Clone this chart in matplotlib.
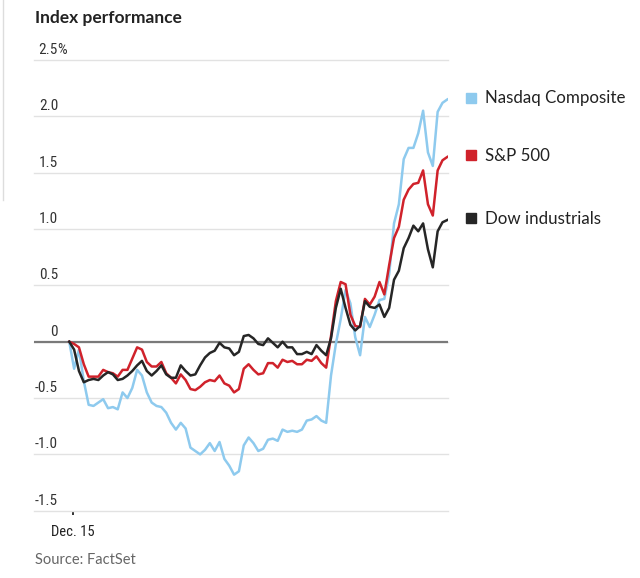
import matplotlib
matplotlib.use("Agg")
import matplotlib.pyplot as plt
from matplotlib import font_manager
from matplotlib.transforms import blended_transform_factory, offset_copy
from matplotlib.lines import Line2D


def pick_font(names):
    for name in names:
        try:
            font_manager.findfont(name, fallback_to_default=False)
            return name
        except Exception:
            pass
    return "DejaVu Sans"


MAIN_FONT = pick_font(["Lato", "Roboto", "DejaVu Sans"])
NARROW_FONT = pick_font(["Liberation Sans Narrow", "Roboto Condensed", "Lato"])

# 5-minute steps through the session, % change from prior close
nasdaq = [0, -0.24, -0.07, -0.35, -0.56, -0.57, -0.54, -0.51, -0.59, -0.58,
          -0.60, -0.45, -0.50, -0.41, -0.25, -0.30, -0.45, -0.54, -0.57, -0.58,
          -0.63, -0.72, -0.78, -0.72, -0.77, -0.94, -0.97, -1.00, -0.96, -0.90,
          -0.97, -0.89, -1.04, -1.10, -1.18, -1.15, -0.92, -0.85, -0.90, -0.97,
          -0.95, -0.87, -0.86, -0.88, -0.78, -0.80, -0.79, -0.80, -0.78, -0.70,
          -0.69, -0.66, -0.70, -0.72, -0.30, -0.02, 0.20, 0.46, 0.34, 0.04,
          -0.12, 0.22, 0.13, 0.24, 0.37, 0.38, 0.60, 1.05, 1.22, 1.62,
          1.72, 1.72, 1.85, 2.05, 1.68, 1.56, 2.04, 2.12, 2.15]

sp500 = [0, -0.02, -0.05, -0.20, -0.31, -0.31, -0.31, -0.25, -0.27, -0.28,
         -0.31, -0.25, -0.25, -0.15, -0.05, -0.07, -0.18, -0.22, -0.22, -0.18,
         -0.28, -0.32, -0.37, -0.29, -0.34, -0.42, -0.43, -0.40, -0.36, -0.34,
         -0.35, -0.30, -0.37, -0.39, -0.45, -0.42, -0.24, -0.20, -0.25, -0.29,
         -0.28, -0.19, -0.19, -0.23, -0.16, -0.18, -0.17, -0.20, -0.20, -0.16,
         -0.17, -0.13, -0.19, -0.23, 0.05, 0.36, 0.53, 0.51, 0.24, 0.14,
         0.13, 0.38, 0.33, 0.40, 0.53, 0.42, 0.68, 0.92, 1.02, 1.26,
         1.35, 1.40, 1.41, 1.52, 1.22, 1.12, 1.52, 1.61, 1.64]

dow = [0, -0.07, -0.26, -0.36, -0.34, -0.33, -0.34, -0.30, -0.27, -0.29,
       -0.34, -0.33, -0.30, -0.26, -0.21, -0.17, -0.26, -0.30, -0.26, -0.21,
       -0.29, -0.32, -0.32, -0.21, -0.26, -0.30, -0.29, -0.21, -0.14, -0.10,
       -0.08, -0.01, -0.05, -0.06, -0.12, -0.09, 0.05, 0.06, 0.03, -0.02,
       -0.03, 0.03, -0.01, -0.05, 0.00, -0.05, -0.05, -0.11, -0.11, -0.09,
       -0.11, -0.03, -0.08, -0.12, 0.03, 0.30, 0.47, 0.30, 0.15, 0.10,
       0.14, 0.36, 0.31, 0.30, 0.33, 0.22, 0.30, 0.55, 0.63, 0.83,
       0.92, 1.03, 0.98, 1.05, 0.82, 0.66, 0.98, 1.06, 1.08]

series_names = ["Nasdaq Composite", "S&P 500", "Dow industrials"]
series_colors = ["#8ecaee", "#d0222b", "#262626"]

y_ticks = [-1.5, -1.0, -0.5, 0, 0.5, 1.0, 1.5, 2.0, 2.5]
y_labels = ["-1.5", "-1.0", "-0.5", "0", "0.5", "1.0", "1.5", "2.0", "2.5"]
x_tick = 0.8
x_label = "Dec. 15"

steps = list(range(len(nasdaq)))

fig = plt.figure(figsize=(6.4, 5.78), dpi=100)
ax = fig.add_axes([0.0531, 0.1164, 0.647, 0.7895])

ax.set_xlim(-7.28, 78.15)
ax.set_ylim(-1.5, 2.55)

ax.set_yticks(y_ticks)
ax.tick_params(axis="y", length=0, labelleft=False)
ax.grid(axis="y", color="#e2e2e2", linewidth=1.0)
for gl in ax.get_ygridlines():
    gl.set_clip_on(False)
ax.axhline(0, color="#7a7a7a", linewidth=1.6, zorder=2)

trans = blended_transform_factory(ax.transAxes, ax.transData)
for v, lab in zip(y_ticks, y_labels):
    ax.annotate(lab, xy=(0.0, v), xycoords=trans, xytext=(17.3, 2.2),
                textcoords="offset points", ha="right", va="bottom",
                fontsize=11, color="#333333", family=NARROW_FONT)
# percent sign hangs past the right edge of the top label
ax.annotate("%", xy=(0.0, y_ticks[-1]), xycoords=trans, xytext=(16.8, 2.2),
            textcoords="offset points", ha="left", va="bottom",
            fontsize=11, color="#333333", family=NARROW_FONT)

ax.set_xticks([x_tick])
ax.set_xticklabels([x_label], fontsize=10.5, color="#222222", family=NARROW_FONT)
ax.tick_params(axis="x", length=3, width=1.4, color="#333333", pad=7)

for spine in ax.spines.values():
    spine.set_visible(False)

sq_trans = offset_copy(trans, fig=fig, x=16.2, y=1.2, units="points")
for vals, name, col in zip([nasdaq, sp500, dow], series_names, series_colors):
    ax.plot(steps, vals, color=col, linewidth=1.8, solid_joinstyle="round", zorder=3)
    ax.plot([1.0], [vals[-1]], transform=sq_trans, marker="s", markersize=7.5,
            color=col, clip_on=False, linestyle="none")
    ax.annotate(name, xy=(1.0, vals[-1]), xycoords=trans, xytext=(26.6, 1.0),
                textcoords="offset points", ha="left", va="center",
                fontsize=12.2, color="#222222", family=MAIN_FONT)

fig.text(0.0547, 0.969, "Index performance", fontsize=12.5, fontweight="bold",
         color="#222222", family=MAIN_FONT, ha="left", va="center")
fig.text(0.0547, 0.031, "Source: FactSet", fontsize=10.5, color="#666666",
         family=MAIN_FONT, ha="left", va="center")

# faint frame edge on the left of the screenshot
fig.add_artist(Line2D([0.0045, 0.0045], [1.0, 0.654], color="#dddddd", linewidth=1))

fig.savefig("out.png", dpi=100)
